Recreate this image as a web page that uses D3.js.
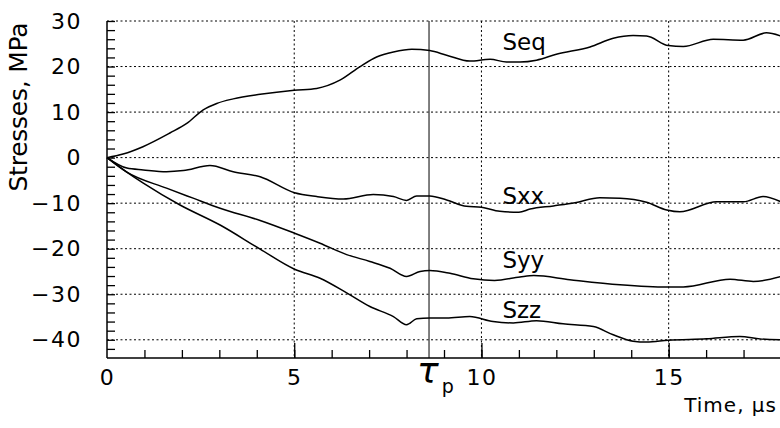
<!DOCTYPE html>
<html>
<head>
<meta charset="utf-8">
<script src="https://cdn.jsdelivr.net/npm/d3@7.9.0/dist/d3.min.js"></script>
<style>
  body { margin: 0; background: #fff; }
  svg { display: block; }
  text { font-family: "DejaVu Sans", sans-serif; fill: #000; }
</style>
</head>
<body>
<svg id="chart" width="780" height="428"></svg>
<script>
// data (time in us, stress in MPa)
const seqTime = [0, 0.43, 0.96, 1.68, 2.13, 2.57, 2.93, 3.37, 4.09, 5.0, 5.6, 6.22, 6.76, 7.2, 7.65, 8.14, 8.62, 9.07, 9.69, 10.23, 10.67, 11.03, 11.47, 12.0, 12.9, 13.52, 14.05, 14.41, 14.99, 15.39, 16.19, 16.99, 17.61, 18];
const seqVal  = [0, 0.8, 2.4, 5.4, 7.5, 10.5, 11.9, 12.9, 13.9, 14.8, 15.2, 17, 20, 22.1, 23.2, 23.8, 23.5, 22.5, 21.2, 21.6, 21.0, 21.0, 21.4, 22.7, 24.3, 26.2, 26.8, 26.7, 24.6, 24.4, 26.0, 25.8, 27.4, 26.7];

const sxxTime = [0, 0.53, 0.97, 1.59, 2.04, 2.75, 3.37, 4.09, 5.01, 5.6, 6.31, 7.11, 7.65, 8.0, 8.27, 8.62, 9.07, 9.6, 10.0, 10.49, 11.0, 11.3, 11.92, 12.5, 13.16, 13.7, 14.41, 14.95, 15.3, 16.28, 17.0, 17.52, 18];
const sxxVal  = [0, -2.3, -2.7, -3.1, -2.85, -1.75, -3.1, -4.2, -7.7, -8.55, -9.1, -8.1, -8.55, -9.4, -8.4, -8.4, -9.3, -10.7, -10.9, -11.8, -12.0, -11.3, -10.6, -9.9, -8.8, -8.9, -9.8, -11.5, -11.9, -9.7, -9.7, -8.55, -9.7];

const syyTime = [0, 0.53, 1.59, 2.3, 3.02, 4.09, 5.01, 5.69, 6.4, 7.02, 7.56, 8.0, 8.36, 8.62, 9.16, 9.78, 10.35, 11.03, 11.4, 12.36, 13.7, 14.95, 15.39, 16.64, 17.26, 18];
const syyVal  = [0, -3.2, -6.7, -8.9, -11.1, -13.8, -16.6, -18.8, -21.3, -22.8, -24.3, -26.1, -25.0, -24.8, -25.4, -26.6, -27.0, -26.2, -25.9, -26.8, -27.9, -28.4, -28.4, -26.7, -27.2, -26.1];

const szzTime = [0, 0.5, 0.97, 1.95, 3.02, 4.09, 5.01, 5.69, 6.4, 7.02, 7.65, 8.0, 8.27, 8.62, 9.07, 9.69, 10.31, 10.85, 11.47, 12.18, 12.99, 13.52, 14.05, 14.41, 14.99, 16.01, 16.9, 17.44, 18];
const szzVal  = [0, -3.0, -5.6, -10.4, -14.8, -20.1, -24.5, -26.5, -29.7, -32.7, -34.9, -36.7, -35.4, -35.2, -35.2, -34.9, -36.0, -36.3, -35.8, -36.5, -37.1, -38.9, -40.3, -40.5, -40.1, -39.8, -39.3, -39.8, -40];

const seriesNames = ["Seq", "Sxx", "Syy", "Szz"];
// where each name label sits (time, stress)
const labelTime = [10.56, 10.56, 10.56, 10.56];
const labelVal  = [23.6, -10.2, -24.3, -35.3];

const xMajor = [0, 5, 10, 15];
const yMajor = [-40, -30, -20, -10, 0, 10, 20, 30];
const tpTime = 8.6;

// layout
const svg = d3.select("#chart");
const plotLeft = 107, plotRight = 781, plotTop = 21, plotBottom = 358;

const x = d3.scaleLinear().domain([0, 18]).range([plotLeft, plotRight]);
const y = d3.scaleLinear().domain([-44, 30]).range([plotBottom, plotTop]);

// dotted grid
const grid = svg.append("g")
    .attr("stroke", "#000")
    .attr("stroke-width", 1)
    .attr("stroke-dasharray", "2,2.5");

yMajor.forEach(v => {
    grid.append("line")
        .attr("x1", plotLeft).attr("x2", plotRight)
        .attr("y1", y(v)).attr("y2", y(v));
});
xMajor.filter(v => v > 0).forEach(v => {
    grid.append("line")
        .attr("x1", x(v)).attr("x2", x(v))
        .attr("y1", plotTop).attr("y2", plotBottom);
});

// Tp marker
svg.append("line")
    .attr("x1", x(tpTime)).attr("x2", x(tpTime))
    .attr("y1", plotTop).attr("y2", plotBottom)
    .attr("stroke", "#000").attr("stroke-width", 1);

// curves
const line = d3.line()
    .x(d => x(d[0]))
    .y(d => y(d[1]))
    .curve(d3.curveMonotoneX);

const curves = [
    d3.zip(seqTime, seqVal),
    d3.zip(sxxTime, sxxVal),
    d3.zip(syyTime, syyVal),
    d3.zip(szzTime, szzVal)
];

curves.forEach(c => {
    svg.append("path")
        .attr("d", line(c))
        .attr("fill", "none")
        .attr("stroke", "#000")
        .attr("stroke-width", 1.5);
});

seriesNames.forEach((name, i) => {
    svg.append("text")
        .attr("x", x(labelTime[i]))
        .attr("y", y(labelVal[i]))
        .attr("font-size", 23)
        .text(name);
});

// y axis: inner minor ticks every 2
const yAxis = svg.append("g")
    .attr("transform", `translate(${plotLeft},0)`)
    .call(d3.axisRight(y).tickValues(d3.range(-42, 31, 2)).tickSize(8).tickFormat(""));
yAxis.select(".domain").attr("d", `M0,${plotTop}V${plotBottom}`).attr("stroke-width", 1.5);
yAxis.selectAll(".tick line").attr("stroke-width", 1.3);

// y labels
const yLabels = svg.append("g")
    .attr("transform", `translate(${plotLeft},0)`)
    .call(d3.axisLeft(y).tickValues(yMajor).tickSize(0).tickPadding(25)
        .tickFormat(d => d < 0 ? "\u2212" + Math.abs(d) : d));
yLabels.select(".domain").remove();
yLabels.selectAll("text")
    .attr("font-size", 22)
    .attr("letter-spacing", 1.5)
    .style("font-family", "DejaVu Sans");

// x axis: minor ticks every 1, major longer
const xAxis = svg.append("g")
    .attr("transform", `translate(0,${plotBottom})`)
    .call(d3.axisTop(x).tickValues(d3.range(1, 19, 1)).tickSize(8).tickFormat(""));
xAxis.select(".domain").attr("d", `M${plotLeft},0H${plotRight}`).attr("stroke-width", 1.5);
xAxis.selectAll(".tick line").attr("stroke-width", 1.3);

svg.append("g")
    .attr("transform", `translate(0,${plotBottom})`)
    .call(d3.axisTop(x).tickValues(xMajor.filter(v => v > 0)).tickSize(15).tickFormat(""))
    .call(g => g.select(".domain").remove())
    .selectAll(".tick line").attr("stroke-width", 1.3);

const xLabels = svg.append("g")
    .attr("transform", `translate(0,${plotBottom})`)
    .call(d3.axisBottom(x).tickValues(xMajor).tickSize(0).tickPadding(11));
xLabels.select(".domain").remove();
xLabels.selectAll("text")
    .attr("font-size", 22)
    .attr("letter-spacing", 1.5)
    .style("font-family", "DejaVu Sans");

// tau_p label under the marker
const tp = svg.append("text")
    .attr("x", x(tpTime) - 12)
    .attr("y", 383);
tp.append("tspan").attr("font-size", 36).attr("font-style", "italic").text("\u03c4");
tp.append("tspan").attr("font-size", 19).attr("dx", 3).attr("dy", 10).text("p");

// axis titles
svg.append("text")
    .attr("transform", "translate(27,107) rotate(-90)")
    .attr("text-anchor", "middle")
    .attr("font-size", 25)
    .attr("textLength", 169)
    .attr("lengthAdjust", "spacing")
    .text("Stresses, MPa");

svg.append("text")
    .attr("x", 777)
    .attr("y", 412)
    .attr("text-anchor", "end")
    .attr("font-size", 20)
    .attr("letter-spacing", 1)
    .text("Time, \u03bcs");
</script>
</body>
</html>
